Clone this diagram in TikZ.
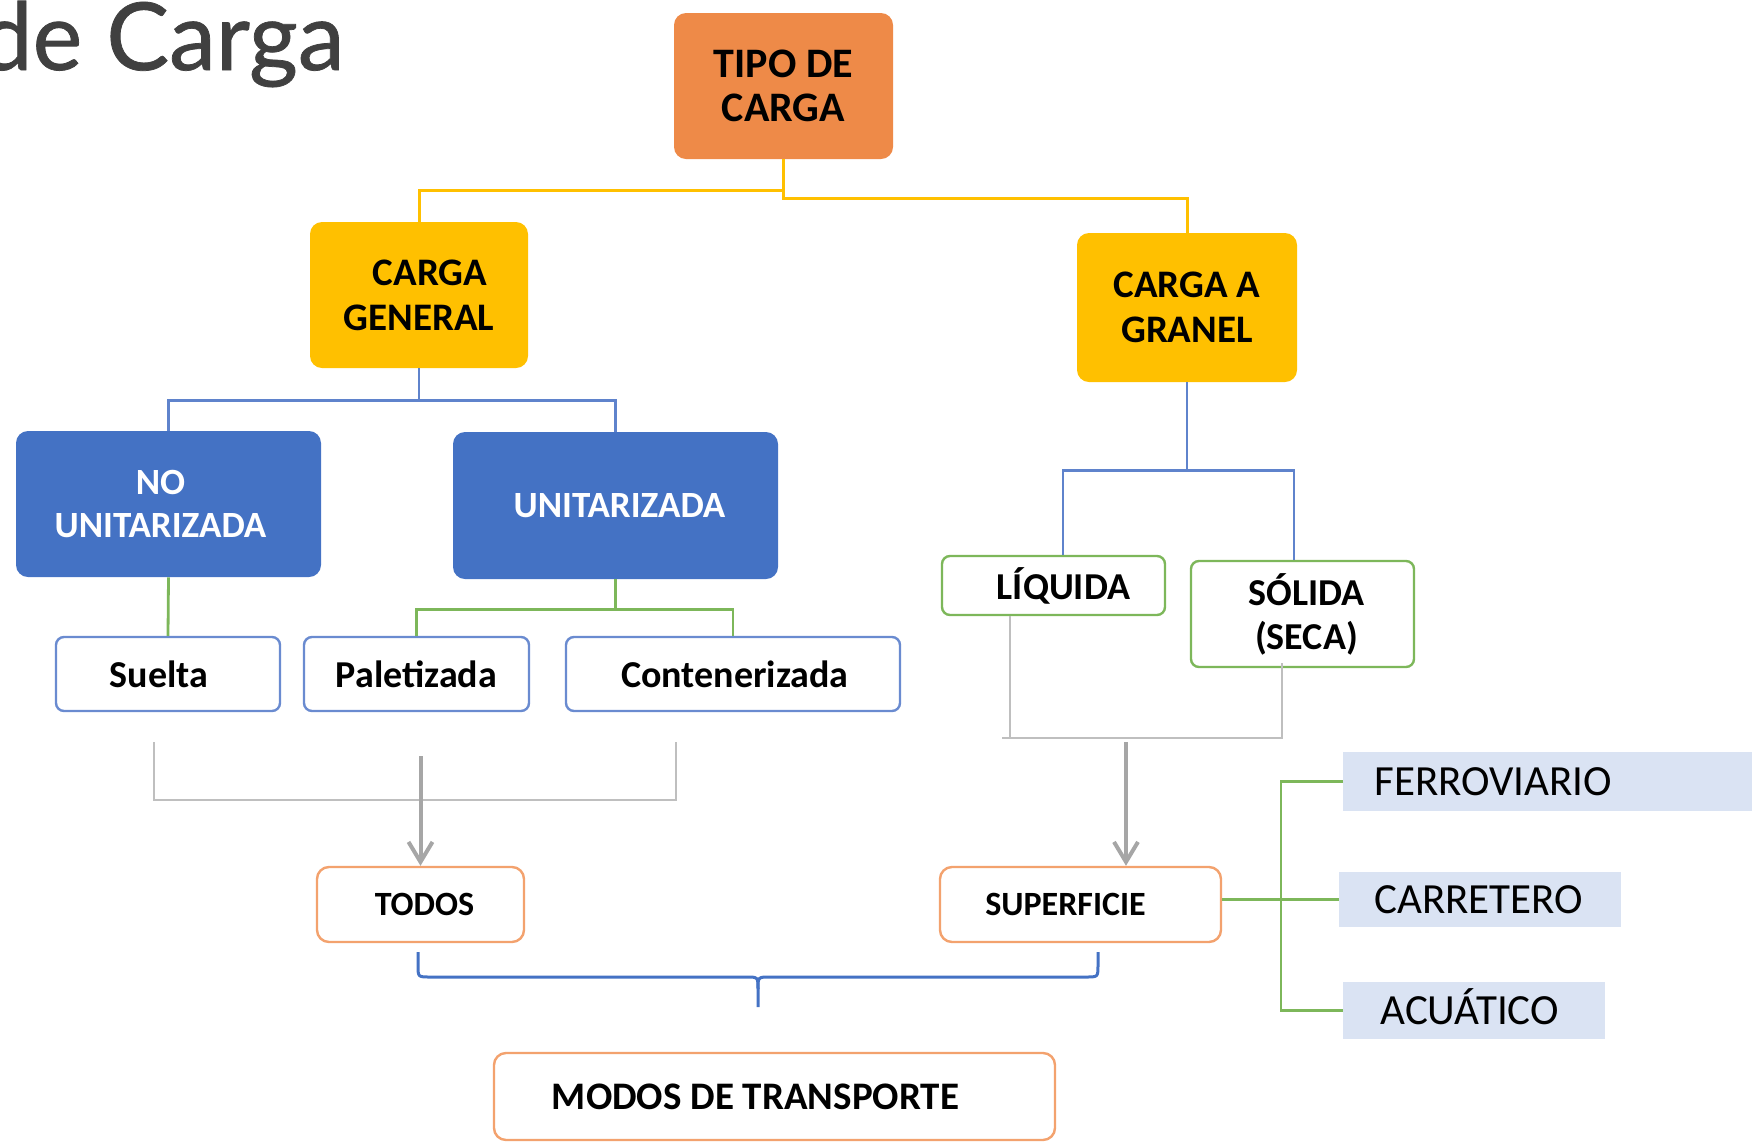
\documentclass[tikz,border=0pt]{standalone}
\usepackage{fontspec}
\setmainfont{Carlito}
\newfontfamily\titlefont{Lato}[FakeBold=0.8]
\usetikzlibrary{arrows.meta}
\definecolor{orng}{HTML}{EE8A48}
\definecolor{yel}{HTML}{FFC000}
\definecolor{blu}{HTML}{4472C4}
\definecolor{bluline}{HTML}{5F83CC}
\definecolor{grn}{HTML}{7DB75A}
\definecolor{orbord}{HTML}{F3A26E}
\definecolor{lgray}{HTML}{BFBFBF}
\definecolor{dgray}{HTML}{A6A6A6}
\definecolor{lblue}{HTML}{DAE3F3}
\definecolor{titlegray}{HTML}{404040}
\definecolor{wbord}{HTML}{6A8BD0}
\tikzset{
  basebox/.style={rounded corners=6pt, align=center, inner sep=0pt, text=black},
  filledbox/.style={basebox, font=\bfseries\fontsize{19.5}{22.5}\selectfont},
  whitebox/.style={basebox, draw=wbord, line width=1.2pt, fill=white, rounded corners=4pt,
                   minimum height=37pt, font=\bfseries\fontsize{19}{22}\selectfont},
  greenbox/.style={basebox, draw=grn, line width=1.2pt, fill=white, rounded corners=4pt,
                   font=\bfseries\fontsize{19}{22}\selectfont},
  orangebox/.style={basebox, draw=orbord, line width=1.2pt, fill=white, rounded corners=6pt},
  modebox/.style={fill=lblue, inner ysep=0pt, align=left, anchor=west,
                  text height=14pt, text depth=0pt, font=\fontsize{21.5}{24}\selectfont},
  yelline/.style={draw=yel, line width=1.5pt},
  bluline/.style={draw=bluline, line width=1.4pt},
  grnline/.style={draw=grn, line width=1.4pt},
  graybr/.style={draw=lgray, line width=1.4pt},
  grayarr/.style={draw=dgray, line width=2pt, -{Straight Barb[length=10pt,width=12pt,line width=2pt]}},
  braceline/.style={draw=blu, line width=1.5pt}
}
\begin{document}
\begin{tikzpicture}[x=0.5pt,y=-0.5pt]
\useasboundingbox (0,0) rectangle (1752,1142);
\clip (0,0) rectangle (1752,1142);

% title
\node[font=\titlefont\fontsize{47}{52}\selectfont, text=titlegray, anchor=base east, inner sep=0pt] (title) at (345,70) {de Carga};

% boxes
\node[filledbox, fill=orng, minimum width=109.5pt, minimum height=73pt,
      font=\bfseries\fontsize{21}{21.7}\selectfont] (tipo) at (783.5,86) {TIPO DE\\CARGA};
\node[filledbox, fill=yel, minimum width=109pt, minimum height=73pt] (cgen) at (419,295) {\hspace*{11pt}CARGA\\GENERAL};
\node[filledbox, fill=yel, minimum width=110pt, minimum height=74.5pt] (granel) at (1187,307.5) {CARGA A\\GRANEL};
\node[filledbox, fill=blu, text=white, minimum width=152.5pt, minimum height=73pt,
      font=\bfseries\fontsize{18.5}{21.7}\selectfont] (nounit) at (168.5,504) {NO\hspace*{8pt}\\UNITARIZADA\hspace*{8pt}};
\node[filledbox, fill=blu, text=white, minimum width=162.5pt, minimum height=73.5pt,
      font=\bfseries\fontsize{18.5}{21.7}\selectfont] (unit) at (615.5,505.5) {\hspace*{4pt}UNITARIZADA};

\node[whitebox, minimum width=112pt] (suelta) at (168,674) {Suelta\hspace*{9pt}};
\node[whitebox, minimum width=112.5pt] (palet) at (416.5,674) {Paletizada};
\node[whitebox, minimum width=167pt] (cont) at (733,674) {\hspace*{2pt}Contenerizada};

\node[greenbox, minimum width=111.5pt, minimum height=29.5pt] (liq) at (1053.5,585.5) {\hspace*{10pt}LÍQUIDA};
\node[greenbox, minimum width=111.5pt, minimum height=53pt] (sol) at (1302.5,614) {\hspace*{4pt}SÓLIDA\\\hspace*{4pt}(SECA)};

\node[orangebox, minimum width=103.5pt, minimum height=37.5pt,
      font=\bfseries\fontsize{17}{20}\selectfont] (todos) at (420.5,904.5) {\hspace*{4pt}TODOS};
\node[orangebox, minimum width=140.5pt, minimum height=37.5pt,
      font=\bfseries\fontsize{17}{20}\selectfont] (sup) at (1080.5,904.5) {SUPERFICIE\hspace*{15pt}};
\node[orangebox, minimum width=280.5pt, minimum height=43.5pt,
      font=\bfseries\fontsize{19.5}{22}\selectfont] (modos) at (774.5,1096.5) {MODOS DE TRANSPORTE\hspace*{19pt}};

\node[modebox, minimum height=29.5pt, inner xsep=15.5pt, text width=180pt] (ferr) at (1343,781.5) {FERROVIARIO};
\node[modebox, minimum height=27.5pt, inner xsep=17.5pt, text width=106pt] (carr) at (1339,899.5) {CARRETERO};
\node[modebox, minimum height=28.5pt, inner xsep=18.5pt, text width=94pt] (acua) at (1343,1010.5) {ACUÁTICO};

% connectors: tree
\draw[yelline] (tipo.south) -- ++(0,31) -| (cgen.north);
\draw[yelline] (tipo.south) -- ++(0,39) -| (granel.north);
\draw[bluline] (cgen.south) -- ++(0,32) -| (nounit.north);
\draw[bluline] (cgen.south) -- ++(0,32) -| (unit.north);
\draw[grnline] (nounit.south) -- (suelta.north);
\draw[grnline] (unit.south) -- ++(0,30) -| (palet.north);
\draw[grnline] (unit.south) -- ++(0,30) -| (cont.north);
\draw[bluline] (granel.south) -- ++(0,88) -| ([xshift=4.75pt]liq.north);
\draw[bluline] (granel.south) -- ++(0,88) -| ([xshift=-4.25pt]sol.north);

% grey brackets and arrows
\coordinate (bl1) at (154,742);
\coordinate (bl2) at (154,800);
\coordinate (br2) at (676,800);
\coordinate (br1) at (676,742);
\draw[graybr] (bl1) -- (bl2) -- (br2) -- (br1);
\coordinate (a1) at (420.5,756);
\draw[grayarr] (a1) -- (todos.north);

\coordinate (rb1) at (1002,738);
\coordinate (rb2) at (1282,738);
\draw[graybr] ([xshift=-21.75pt]liq.south) -- ([xshift=-21.75pt]liq.south |- rb1);
\draw[graybr] (rb1) -- (rb2) -- ([xshift=-10.25pt,yshift=2.5pt]sol.south);
\coordinate (a2) at (1126,742);
\draw[grayarr] (a2) -- ([xshift=22.75pt]sup.north);

% modes
\draw[grnline] (sup.east |- carr.west) -- (carr.west);
\draw[grnline] (ferr.west) -- ++(-62,0) |- (acua.west);

% brace
\draw[braceline] (418,952) -- (418,965) .. controls (418,977) .. (430,977) -- (746,977)
  .. controls (758,977) .. (758,989) -- (758,1007);
\draw[braceline] (758,989) .. controls (758,977) .. (770,977) -- (1086,977)
  .. controls (1098,977) .. (1098,965) -- (1098,952);
\end{tikzpicture}
\end{document}
